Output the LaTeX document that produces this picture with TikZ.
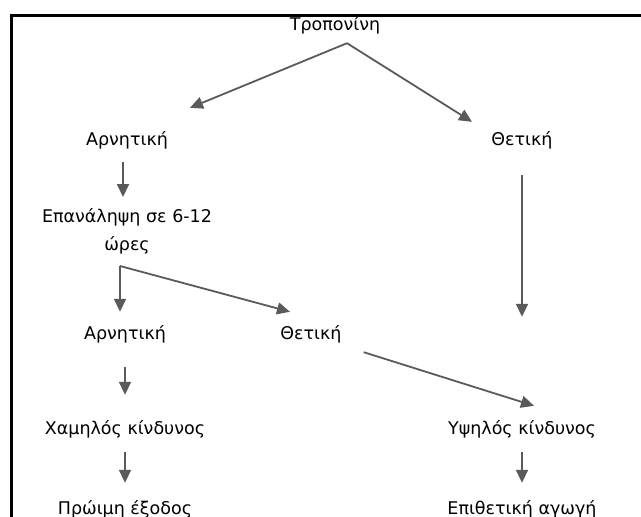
\documentclass[tikz,border=0pt]{standalone}
\usepackage{fontspec}
\setmainfont{DejaVu Sans}
\usetikzlibrary{arrows.meta}
\definecolor{arrgray}{RGB}{90,90,90}
\begin{document}
\begin{tikzpicture}[x=1pt,y=-1pt,
    txt/.style={inner sep=0pt,font=\fontsize{17.5}{28}\selectfont},
    lbl/.style={txt,text height=12pt,text depth=4pt},
    arr/.style={color=arrgray,line width=1.8pt,-{Triangle[length=13pt,width=12pt]}}]
  \useasboundingbox (0,0) rectangle (641,517);
  \draw[line width=2.5pt] (11.5,517) -- (11.5,15.5) -- (641,15.5);
  \node[lbl] (trop) at (335,26) {Τροπονίνη};
  \node[lbl] (neg1) at (127,141) {Αρνητική};
  \node[lbl] (pos1) at (522,141) {Θετική};
  \node[txt,align=center,anchor=north] (rep) at (127,208) {Επανάληψη σε 6-12\\ώρες};
  \node[lbl] (neg2) at (125,335) {Αρνητική};
  \node[lbl] (pos2) at (311,335) {Θετική};
  \node[lbl] (low) at (125,430) {Χαμηλός κίνδυνος};
  \node[lbl] (high) at (522,430) {Υψηλός κίνδυνος};
  \node[lbl] (early) at (125,510) {Πρώιμη έξοδος};
  \node[lbl] (aggr) at (522,510) {Επιθετική αγωγή};
  \coordinate (apex) at ([xshift=12pt,yshift=-9pt]trop.south);
  \coordinate (fork) at (120,266);
  \draw[arr] (apex) -- ([xshift=63pt,yshift=25pt]neg1.north);
  \draw[arr] (apex) -- ([xshift=-50pt,yshift=11pt]pos1.north);
  \draw[arr] ([xshift=-4pt,yshift=-13pt]neg1.south) -- ([xshift=-4pt,yshift=11pt]rep.north);
  \draw[arr] (fork) -- ([xshift=-5pt,yshift=15pt]neg2.north);
  \draw[arr] (fork) -- ([xshift=-21pt,yshift=15pt]pos2.north);
  \draw[arr] ([yshift=-24pt]neg2.south) -- ([yshift=27pt]low.north);
  \draw[arr] ([yshift=-26pt]pos1.south) -- ([yshift=105pt]high.north);
  \draw[arr] ([xshift=22pt,yshift=-9pt]pos2.south east) -- ([xshift=12pt,yshift=16pt]high.north);
  \foreach \a/\b in {low/early,high/aggr}
    \draw[arr] ([yshift=-14pt]\a.south) -- ([yshift=19pt]\b.north);
\end{tikzpicture}
\end{document}
